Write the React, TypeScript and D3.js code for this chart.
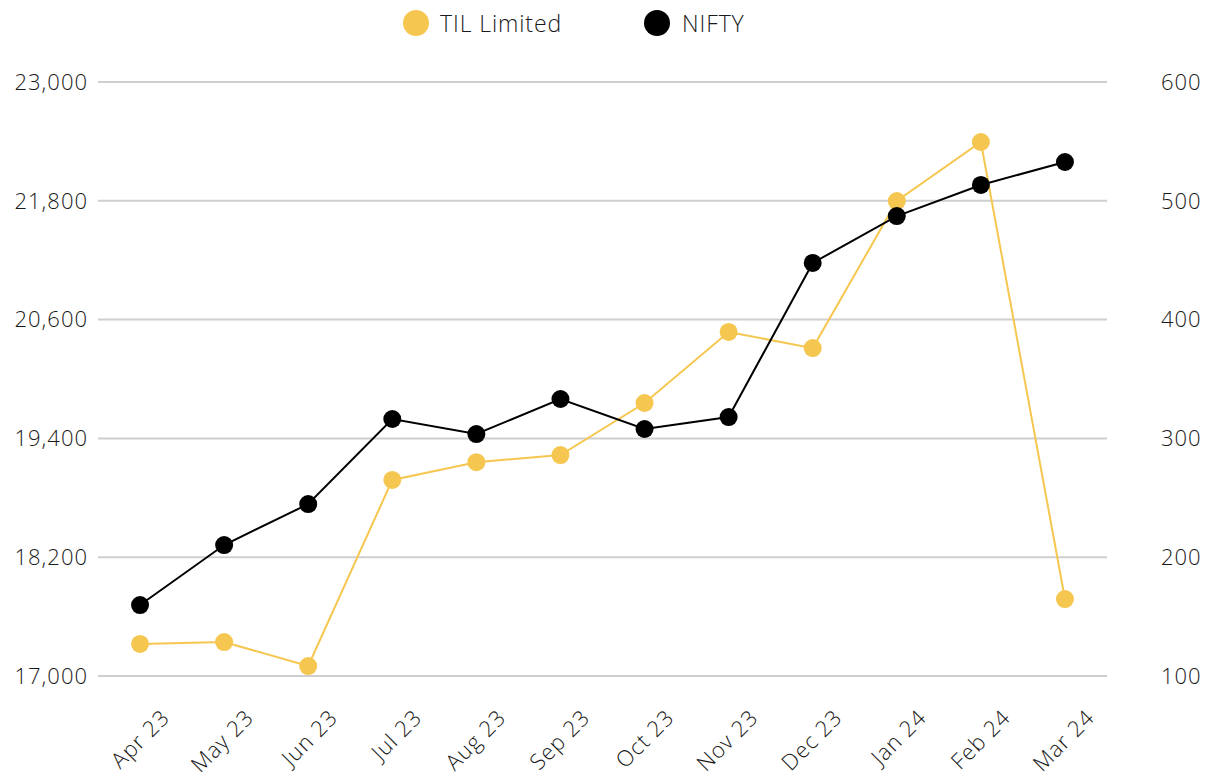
import { useMemo } from "react";
import * as d3 from "d3";

const WIDTH = 1223;
const HEIGHT = 783;
const MARGIN = { top: 82, right: 116, bottom: 107, left: 98 };

const months = [
  "Apr 23", "May 23", "Jun 23", "Jul 23", "Aug 23", "Sep 23",
  "Oct 23", "Nov 23", "Dec 23", "Jan 24", "Feb 24", "Mar 24",
];
const niftyValues = [
  17717, 18323, 18737, 19596, 19444, 19798, 19495, 19616, 21172, 21646, 21960, 22192,
];
const tilValues = [127, 128.6, 108.4, 265, 280, 286, 329.8, 389.6, 376, 499.8, 549.5, 164.8];

const leftTicks = [17000, 18200, 19400, 20600, 21800, 23000];
const rightTicks = [100, 200, 300, 400, 500, 600];

const YELLOW = "#F6C750";
const FONT = "'Open Sans', Lato, sans-serif";
const TEXT = "#1a1a1a";

const App = () => {
  const boundsWidth = WIDTH - MARGIN.left - MARGIN.right;
  const boundsHeight = HEIGHT - MARGIN.top - MARGIN.bottom;

  const xScale = useMemo(
    () => d3.scaleBand().domain(months).range([0, boundsWidth]),
    [boundsWidth]
  );
  const yLeft = useMemo(
    () => d3.scaleLinear().domain([17000, 23000]).range([boundsHeight, 0]),
    [boundsHeight]
  );
  const yRight = useMemo(
    () => d3.scaleLinear().domain([100, 600]).range([boundsHeight, 0]),
    [boundsHeight]
  );

  const cx = (m: string) => (xScale(m) ?? 0) + xScale.bandwidth() / 2;

  const niftyLine = d3
    .line<number>()
    .x((_, i) => cx(months[i]))
    .y((d) => yLeft(d))(niftyValues);
  const tilLine = d3
    .line<number>()
    .x((_, i) => cx(months[i]))
    .y((d) => yRight(d))(tilValues);

  return (
    <svg width={WIDTH} height={HEIGHT} style={{ position: "absolute", left: 0, top: 0 }} fontFamily={FONT}>
      {/* legend */}
      <g fontSize={23} fontWeight={300} fill={TEXT} letterSpacing={0.9}>
        <circle cx={416} cy={23} r={13} fill={YELLOW} />
        <text x={440} y={32}>TIL Limited</text>
        <circle cx={657} cy={23} r={13} fill="#000" />
        <text x={682} y={32}>NIFTY</text>
      </g>
      <g transform={`translate(${MARGIN.left},${MARGIN.top})`} fontSize={22} fontWeight={300} fill={TEXT} letterSpacing={1}>
        {leftTicks.map((t, i) => (
          <g key={i}>
            <line x1={0} x2={boundsWidth} y1={yLeft(t)} y2={yLeft(t)} stroke="#cfcfcf" strokeWidth={2} />
            <text x={-10} y={yLeft(t)} dy="0.35em" textAnchor="end">
              {d3.format(",")(t)}
            </text>
          </g>
        ))}
        {rightTicks.map((t, i) => (
          <text key={i} x={boundsWidth + 54} y={yRight(t)} dy="0.35em" textAnchor="start">
            {t}
          </text>
        ))}
        {months.map((m, i) => (
          <text
            key={i}
            transform={`translate(${cx(m) + 31},${boundsHeight + 43}) rotate(-45)`}
            textAnchor="end"
          >
            {m}
          </text>
        ))}
        <path d={tilLine ?? ""} fill="none" stroke={YELLOW} strokeWidth={2} />
        <path d={niftyLine ?? ""} fill="none" stroke="#000" strokeWidth={2} />
        {tilValues.map((v, i) => (
          <circle key={i} cx={cx(months[i])} cy={yRight(v)} r={9} fill={YELLOW} />
        ))}
        {niftyValues.map((v, i) => (
          <circle key={i} cx={cx(months[i])} cy={yLeft(v)} r={9} fill="#000" />
        ))}
      </g>
    </svg>
  );
};

export default App;
